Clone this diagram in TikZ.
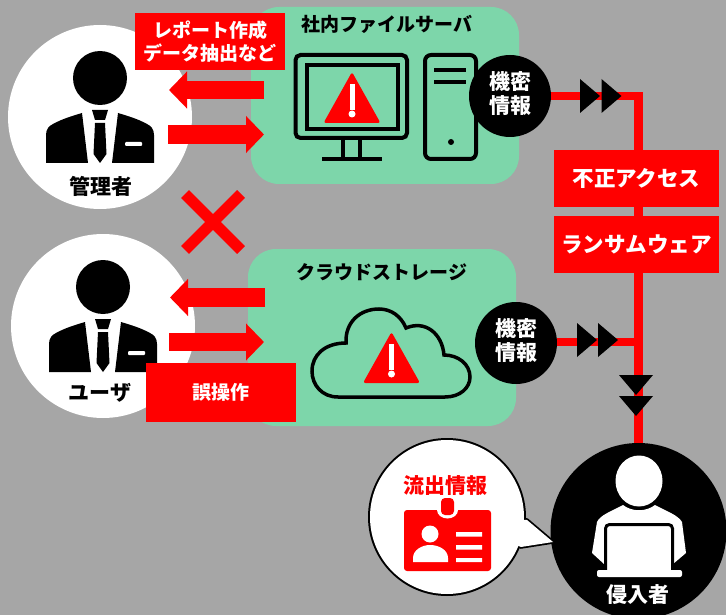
\documentclass[tikz,border=0pt]{standalone}
\usepackage{fontspec}
\setmainfont{Noto Sans CJK JP}
\usetikzlibrary{arrows.meta}
\definecolor{bggray}{HTML}{A6A6A6}
\definecolor{mint}{HTML}{7DD6AA}
\definecolor{alarm}{HTML}{FF0000}
\tikzset{
  panel/.style={fill=mint,rounded corners=28pt},
  labelbox/.style={fill=alarm,text=white,inner sep=0pt,align=center,font=\bfseries\fontsize{19}{23.5}\selectfont},
  bigbox/.style={labelbox,font=\bfseries\fontsize{21.5}{24}\selectfont,minimum width=165pt,minimum height=57pt},
  person/.style={circle,fill=white,minimum size=184pt,inner sep=0pt},
  secret/.style={circle,fill=black,text=white,minimum size=82pt,inner sep=0pt,align=center,text depth=7pt,font=\bfseries\fontsize{21}{24}\selectfont},
  txt/.style={inner sep=0pt,font=\bfseries\fontsize{21}{24}\selectfont},
  title/.style={inner sep=0pt,font=\bfseries\fontsize{19}{24}\selectfont},
  wire/.style={draw=alarm,line width=8.7pt},
  fat/.style={draw=alarm,line width=18.5pt,-{Triangle[length=18pt,width=36pt,fill=alarm]}},
  icon/.style={draw=black,line width=4pt},
  manager/.pic={
    \fill[black] (0,-39) circle[radius=27];
    \fill[black] (-54,46) -- (-54,18) .. controls (-54,12) and (-51,9) .. (-47,7) .. controls (-38,2) and (-28,-1) .. (-18,-4) -- (-12,46) -- cycle;
    \fill[black] (54,46) -- (54,18) .. controls (54,12) and (51,9) .. (47,7) .. controls (38,2) and (28,-1) .. (18,-4) -- (12,46) -- cycle;
    \fill[black] (-8,-7) -- (8,-7) -- (5,3) -- (-5,3) -- cycle;
    \fill[black] (-5,6) -- (5,6) -- (6.5,37) -- (0,46) -- (-6.5,37) -- cycle;
    \fill[white,rounded corners=1pt] (25,25) rectangle (42,29);
  },
  warning/.pic={
    \fill[alarm,rounded corners=2.5pt] (0,0) -- (28.5,51) -- (-28.5,51) -- cycle;
    \fill[white] (-2.5,12) rectangle (2.5,38);
    \fill[white] (0,42) circle[radius=3.5];
  },
  rtri/.pic={\fill[black] (0,-17) -- (20,0) -- (0,17) -- cycle;},
  dtri/.pic={\fill[black] (-17,0) -- (17,0) -- (0,20) -- cycle;},
}
\begin{document}
\begin{tikzpicture}[x=1pt,y=-1pt]
\useasboundingbox (0,0) rectangle (726,615);
\fill[bggray] (0,0) rectangle (726,615);
% panels
\fill[panel] (251,7) rectangle (519,184);
\fill[panel] (248,249) rectangle (516,426);
% people
\node[person] (admin) at (100,117) {};
\node[person] (user) at (103,326) {};
\pic at (100,117) {manager};
\pic at (103,326) {manager};
\node[txt] (adminlabel) at (101,186) {管理者};
\node[txt] (userlabel) at (100,393) {ユーザ};
% server icons
\draw[icon,rounded corners=5pt] (295.5,55) rectangle (407,138);
\draw[icon] (306.5,65) rectangle (397.5,129);
\draw[icon] (343,138) -- (343,158) (360,138) -- (360,158);
\draw[icon] (322,159) -- (382,159);
\pic at (352,72) {warning};
\draw[icon,rounded corners=6pt] (425,55) rectangle (476,159);
\draw[icon] (434,70) -- (466,70) (434,82) -- (466,82);
\fill[black] (451,142) circle[radius=3];
\node[title] (servertitle) at (387,24) {社内ファイルサーバ};
% cloud icon
\draw[icon,line width=3.5pt,fill=mint] (338,397) .. controls (322,397) and (312,385) .. (312,371)
  .. controls (312,355) and (325,343) .. (346,343)
  .. controls (345,322) and (360,309) .. (379,309)
  .. controls (391,309) and (401,316) .. (406,328)
  .. controls (425,320) and (442,333) .. (444,355)
  .. controls (458,355) and (470,364) .. (470,377)
  .. controls (470,388) and (460,397) .. (445,397) -- cycle;
\pic at (391.5,332) {warning};
\node[title] (cloudtitle) at (382,272) {クラウドストレージ};
% secrets and intruder
\node[secret] (secretA) at (510,96) {機密\\情報};
\node[secret] (secretB) at (516,343) {機密\\情報};
\node[circle,fill=black,minimum size=176pt,inner sep=0pt] (intruder) at (638.5,531) {};
\coordinate (joinB) at (intruder.north |- 0,342);
\coordinate (startB) at (secretB.east |- 0,342);
% wires
\draw[wire] (secretA.east) -| (intruder.north);
\draw[wire] (startB) -- (joinB);
% boxes on wires
\node[bigbox] (attack) at (636.5,178.5) {不正アクセス};
\node[bigbox] (ransom) at (636.5,244.5) {ランサムウェア};
\node[labelbox,minimum width=150pt,minimum height=58.5pt] (mistake) at (221,392.5) {誤操作};
\node[labelbox,minimum width=150pt,minimum height=57pt] (report) at (210,41.5) {レポート作成\\データ抽出など};
% triangles
\pic at (580,96) {rtri};
\pic at (601.5,96) {rtri};
\pic at (577,340) {rtri};
\pic at (598,340) {rtri};
\pic at (636,375) {dtri};
\pic at (636,396) {dtri};
% fat arrows
\coordinate (a1) at (264,90); \coordinate (a2) at (169,90);
\coordinate (a3) at (168,134.5); \coordinate (a4) at (264,134.5);
\coordinate (b1) at (265,297.5); \coordinate (b2) at (170,297.5);
\coordinate (b3) at (169,342); \coordinate (b4) at (264,342);
\draw[fat] (a1) -- (a2);
\draw[fat] (a3) -- (a4);
\draw[fat] (b1) -- (b2);
\draw[fat] (b3) -- (b4);
% cross
\draw[alarm,line width=11pt] (185,194) -- (241,250) (241,194) -- (185,250);
% intruder figure
\fill[black] (639,481) ellipse[x radius=26,y radius=28];
\fill[white] (592,553) -- (597,522) .. controls (600,515) and (612,511) .. (623,505) .. controls (632,512) and (646,512) .. (655,505) .. controls (666,511) and (678,515) .. (682,522) -- (686,553) -- (673,564) -- (604,564) -- cycle;
\fill[black] (639,481) ellipse[x radius=25,y radius=27.5];
\fill[white] (639,481) ellipse[x radius=23.5,y radius=25.5];
\draw[black,line width=3pt,fill=white,rounded corners=4pt] (605.5,574) -- (605.5,524.5) -- (672.5,524.5) -- (672.5,574);
\fill[black] (597,564) rectangle (604,570) (674,564) rectangle (682,570);
\fill[white,rounded corners=2pt] (597,570) rectangle (682,577);
\node[txt,text=white] (intruderlabel) at (638,595) {侵入者};
% bubble
\draw[black,line width=3.5pt,fill=black,line join=miter] (527,520) -- (553,542) -- (521,547) -- (447,517) -- cycle;
\fill[black] (447,517) circle[radius=79];
\fill[white] (447,517) circle[radius=77];
\fill[white] (527,520) -- (553,542) -- (521,547) -- (447,517) -- cycle;
\node[txt,text=alarm] (leak) at (445,486) {流出情報};
% id card
\fill[alarm,rounded corners=3pt] (404,510) rectangle (491,571);
\fill[white] (447.5,510) ellipse[x radius=10.5,y radius=8.5];
\fill[alarm,rounded corners=4pt] (441,498) rectangle (454,515);
\fill[white] (430,534) circle[radius=8.5];
\fill[white] (413,562) -- (413,558) .. controls (413,550) and (422,545) .. (430,545) .. controls (439,545) and (448,550) .. (448,558) -- (448,562) -- cycle;
\fill[white] (456,532) rectangle (482,536.5) (456,545) rectangle (482,549.5) (456,558) rectangle (482,562);
\end{tikzpicture}
\end{document}
